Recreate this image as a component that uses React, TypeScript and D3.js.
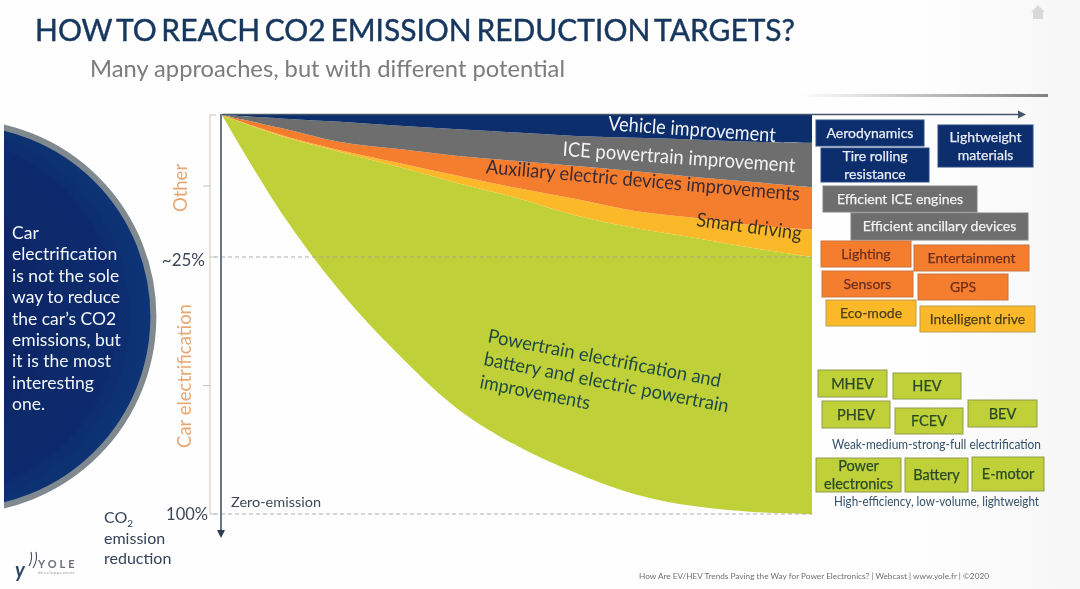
import React from 'react';
import * as d3 from 'd3';

// progress along the horizontal axis, in %
const progress: number[] = [0, 10, 20, 30, 40, 50, 60, 70, 80, 90, 100];

// cumulative CO2 reduction (%) at the lower edge of each wedge
const vehicleEdge: number[] = [0, 0.6, 1.2, 1.9, 2.5, 3.1, 3.7, 4.0, 4.3, 4.7, 4.9];
const iceEdge: number[] = [0, 2.3, 4.75, 6.0, 7.2, 8.1, 9.0, 9.9, 10.9, 11.8, 12.7];
const auxiliaryEdge: number[] = [0, 3.5, 6.2, 8.45, 10.7, 12.85, 14.8, 16.9, 18.1, 19.4, 20.2];
const smartEdge: number[] = [0, 3.7, 6.5, 9.15, 12.0, 14.6, 17.7, 19.9, 21.6, 23.4, 25];
const powertrainEdge: number[] = [0, 17.1, 34.9, 53.6, 69.4, 80.1, 88.0, 94.2, 97.7, 99.4, 100];

const bracketTicks: number[] = [0, 12.5, 25, 62.5, 100];
const dashedLevels: number[] = [25, 100];

const sideNote: string[] = ['Car', 'electrification', 'is not the sole', 'way to reduce', 'the car\u2019s CO2', 'emissions, but', 'it is the most', 'interesting', 'one.'];
const powertrainLines: string[] = ['Powertrain electrification and', 'battery and electric powertrain', 'improvements'];

const vehicleTags: string[][] = [['Aerodynamics'], ['Tire rolling', 'resistance'], ['Lightweight', 'materials']];
const iceTags: string[][] = [['Efficient ICE engines'], ['Efficient ancillary devices']];
const auxiliaryTags: string[][] = [['Lighting'], ['Entertainment'], ['Sensors'], ['GPS']];
const smartTags: string[][] = [['Eco-mode'], ['Intelligent drive']];
const powertrainTags: string[][] = [['MHEV'], ['HEV'], ['PHEV'], ['FCEV'], ['BEV'], ['Power', 'electronics'], ['Battery'], ['E-motor']];

const width = 1080;
const height = 589;

const x = d3.scaleLinear().domain([0, 100]).range([222, 812]);
// the slide's vertical axis is not linear: 25% sits about a third of the way down
const y = d3.scaleLinear().domain([0, 25, 100]).range([115, 257, 514]);

const NAVY = '#0a2d6c';
const GREY = '#6e6e6e';
const ORANGE = '#f57d2f';
const YELLOW = '#fbb92a';
const GREEN = '#bfd037';
const TAN = '#e6a873';
const FONT = 'Lato, "Open Sans", sans-serif';

function band(top: number[], bottom: number[]) {
    const area = d3.area<number>()
        .x(d => x(d))
        .y0((_, i) => y(top[i]))
        .y1((_, i) => y(bottom[i]))
        .curve(d3.curveCatmullRom.alpha(0.5));
    return area(progress) as string;
}

const zeroEdge = progress.map(() => 0);
const wedges = [
    { top: smartEdge, bottom: powertrainEdge, fill: GREEN },
    { top: auxiliaryEdge, bottom: smartEdge, fill: YELLOW },
    { top: iceEdge, bottom: auxiliaryEdge, fill: ORANGE },
    { top: vehicleEdge, bottom: iceEdge, fill: GREY },
    { top: zeroEdge, bottom: vehicleEdge, fill: NAVY },
];

// [left, top, right, bottom] of each tag, in the same order as the lists above
const vehicleBoxes = [[816, 120, 924, 146], [821, 148, 929, 182], [938, 125, 1033, 167]];
const iceBoxes = [[823, 186, 977, 212], [851, 213, 1028, 240]];
const auxiliaryBoxes = [[821, 241, 911, 267], [914, 245, 1029, 271], [822, 271, 913, 297], [918, 274, 1008, 300]];
const smartBoxes = [[826, 300, 916, 326], [920, 306, 1035, 332]];
const powertrainBoxes = [[818, 370, 887, 397], [893, 373, 961, 399], [822, 401, 890, 428], [895, 408, 963, 434], [968, 400, 1037, 427], [816, 458, 901, 492], [905, 458, 968, 492], [972, 457, 1044, 491]];

const tagGroups = [
    { tags: vehicleTags, boxes: vehicleBoxes, fill: NAVY, stroke: '#2a4a86', color: '#e8edf5', size: 14 },
    { tags: iceTags, boxes: iceBoxes, fill: GREY, stroke: '#808080', color: '#f2f2f2', size: 14 },
    { tags: auxiliaryTags, boxes: auxiliaryBoxes, fill: ORANGE, stroke: '#c9763f', color: '#6a2f22', size: 14 },
    { tags: smartTags, boxes: smartBoxes, fill: YELLOW, stroke: '#b9a050', color: '#4b3d1a', size: 14 },
    { tags: powertrainTags, boxes: powertrainBoxes, fill: GREEN, stroke: '#8f9c50', color: '#2b4a2a', size: 14.5 },
];

function Tag({ lines, box, fill, stroke, color, size }: { lines: string[]; box: number[]; fill: string; stroke: string; color: string; size: number }) {
    const [x0, y0, x1, y1] = box;
    const cx = (x0 + x1) / 2;
    const cy = (y0 + y1) / 2;
    const step = 18.5;
    return (
        <g>
            <rect x={x0} y={y0} width={x1 - x0} height={y1 - y0} fill={fill} stroke={stroke} strokeWidth={1} />
            {lines.map((l, i) => (
                <text key={l} x={cx} y={cy + (i - (lines.length - 1) / 2) * step + size * 0.35} textAnchor="middle" fontSize={size} fill={color} stroke={color} strokeWidth={0.25}>{l}</text>
            ))}
        </g>
    );
}

export default function App() {
    return (
        <svg width={width} height={height} viewBox={`0 0 ${width} ${height}`} style={{ position: 'absolute', left: 0, top: 0, display: 'block' }} fontFamily={FONT}>
            <defs>
                <radialGradient id="noteFill" cx="0.45" cy="0.5" r="0.65">
                    <stop offset="0" stopColor="#06225f" />
                    <stop offset="0.7" stopColor="#0a2c6e" />
                    <stop offset="1" stopColor="#13407f" />
                </radialGradient>
                <linearGradient id="ruleFill" x1="0" x2="1" y1="0" y2="0">
                    <stop offset="0" stopColor="#ffffff" />
                    <stop offset="1" stopColor="#808080" />
                </linearGradient>
                <linearGradient id="pageFill" x1="0" x2="1" y1="0" y2="0">
                    <stop offset="0.85" stopColor="#fefefe" />
                    <stop offset="1" stopColor="#f6f6f6" />
                </linearGradient>
                <clipPath id="noteClip"><rect x={4} y={100} width={200} height={430} /></clipPath>
                <filter id="soft" x="-2%" y="-2%" width="104%" height="104%"><feGaussianBlur stdDeviation="0.45" /></filter>
            </defs>

            <rect width={width} height={height} fill="url(#pageFill)" />

            <g filter="url(#soft)">
                <text x={35} y={40.5} fontSize={30} fill="#17375e" stroke="#17375e" strokeWidth={0.45} wordSpacing={-3} textLength={760} lengthAdjust="spacingAndGlyphs">HOW TO REACH CO2 EMISSION REDUCTION TARGETS?</text>
                <text x={90} y={77} fontSize={23} fill="#7b7b7b" textLength={475} lengthAdjust="spacingAndGlyphs">Many approaches, but with different potential</text>
                <rect x={800} y={94} width={248} height={3} fill="url(#ruleFill)" />
                <path d="M1038 5 L1045 12 L1043 12 L1043 19 L1033 19 L1033 12 L1031 12 Z" fill="#d9d9d9" />

                <g clipPath="url(#noteClip)">
                    <circle cx={-40.6} cy={316.5} r={194} fill="url(#noteFill)" stroke="#808890" strokeWidth={6} />
                </g>
                {sideNote.map((l, i) => (
                    <text key={l} x={12} y={239 + i * 21.4} fontSize={17.5} fill="#f4f6fa">{l}</text>
                ))}

                {wedges.map(w => <path key={w.fill} d={band(w.top, w.bottom)} fill={w.fill} />)}

                {dashedLevels.map(l => (
                    <line key={l} x1={214} x2={x(100)} y1={y(l)} y2={y(l)} stroke="#9c9c9c" strokeWidth={1} strokeDasharray="4 3" opacity={0.8} />
                ))}

                <line x1={210} x2={210} y1={y(0)} y2={y(100)} stroke="#d9cfc4" strokeWidth={1.2} />
                {bracketTicks.map((t, i) => (
                    i % 2 === 0
                        ? <line key={t} x1={210} x2={216} y1={y(t)} y2={y(t)} stroke="#c8c0b8" strokeWidth={1} />
                        : <line key={t} x1={203} x2={210} y1={y(t)} y2={y(t)} stroke="#c8c0b8" strokeWidth={1} />
                ))}

                <line x1={222} x2={1018} y1={114.5} y2={114.5} stroke="#44546a" strokeWidth={1.6} />
                <path d="M1018 110.5 L1026 114.5 L1018 118.5 Z" fill="#44546a" />
                <line x1={221} x2={221} y1={114} y2={530} stroke="#44546a" strokeWidth={1.6} />
                <path d="M217 530 L221 538 L225 530 Z" fill="#2f3b4c" />

                <text transform="translate(692,130) rotate(4)" textAnchor="middle" fontSize={20} fill="#f2f4f8" dy="6" textLength={168} lengthAdjust="spacingAndGlyphs">Vehicle improvement</text>
                <text transform="translate(679,158) rotate(4)" textAnchor="middle" fontSize={20} fill="#f2f2f2" dy="6" textLength={233} lengthAdjust="spacingAndGlyphs">ICE powertrain improvement</text>
                <text transform="translate(643,181) rotate(5)" textAnchor="middle" fontSize={19.5} fill="#3d2b33" dy="6" textLength={315} lengthAdjust="spacingAndGlyphs">Auxiliary electric devices improvements</text>
                <text transform="translate(749,227) rotate(7.5)" textAnchor="middle" fontSize={19.5} fill="#3d3320" dy="6" textLength={106} lengthAdjust="spacingAndGlyphs">Smart driving</text>
                {powertrainLines.map((l, i) => (
                    <text key={l} transform={`translate(${487 - i * 4},${342 + i * 23}) rotate(11)`} fontSize={19} fill="#1f4a46" textLength={[237, 249, 112][i]} lengthAdjust="spacingAndGlyphs">{l}</text>
                ))}

                <text transform="translate(187,188) rotate(-90)" textAnchor="middle" fontSize={18.5} fill={TAN}>Other</text>
                <text transform="translate(191,376) rotate(-90)" textAnchor="middle" fontSize={18.5} fill={TAN}>Car electrification</text>
                <text x={205} y={266} textAnchor="end" fontSize={17} fill="#3d4757">~25%</text>
                <text x={208} y={520} textAnchor="end" fontSize={16.5} fill="#3d4757">100%</text>
                <text x={231} y={507} fontSize={13.5} fill="#3d4757" textLength={90} lengthAdjust="spacingAndGlyphs">Zero-emission</text>
                <text x={104} y={523} fontSize={16} fill="#34425a">CO<tspan fontSize={10} dy={4}>2</tspan></text>
                <text x={104} y={544} fontSize={16} fill="#34425a">emission</text>
                <text x={104} y={564} fontSize={16} fill="#34425a">reduction</text>

                {tagGroups.map(g => g.tags.map((lines, i) => (
                    <Tag key={lines.join(' ')} lines={lines} box={g.boxes[i]} fill={g.fill} stroke={g.stroke} color={g.color} size={g.size} />
                )))}
                <text x={832} y={449} fontSize={13.4} fill="#34506a" textLength={209} lengthAdjust="spacingAndGlyphs">Weak-medium-strong-full electrification</text>
                <text x={834} y={506} fontSize={13.4} fill="#34506a" textLength={205} lengthAdjust="spacingAndGlyphs">High-efficiency, low-volume, lightweight</text>

                <text x={15} y={577} fontSize={20} fontStyle="italic" fontWeight={700} fill="#2d4a66">y</text>
                <path d="M29 566 Q33 559 31 552 M33 568 Q38 560 36 552" fill="none" stroke="#3a4d66" strokeWidth={1.1} />
                <text x={38} y={568} fontSize={11} fontWeight={700} fill="#6a6f78" letterSpacing={3}>YOLE</text>
                <text x={38} y={574} fontSize={4.5} fill="#9a9a9a" letterSpacing={0.5}>développement</text>

                <text x={639} y={579} fontSize={8.4} fill="#6f6f6f" textLength={350} lengthAdjust="spacingAndGlyphs">How Are EV/HEV Trends Paving the Way for Power Electronics? | Webcast | www.yole.fr | ©2020</text>
            </g>
        </svg>
    );
}
